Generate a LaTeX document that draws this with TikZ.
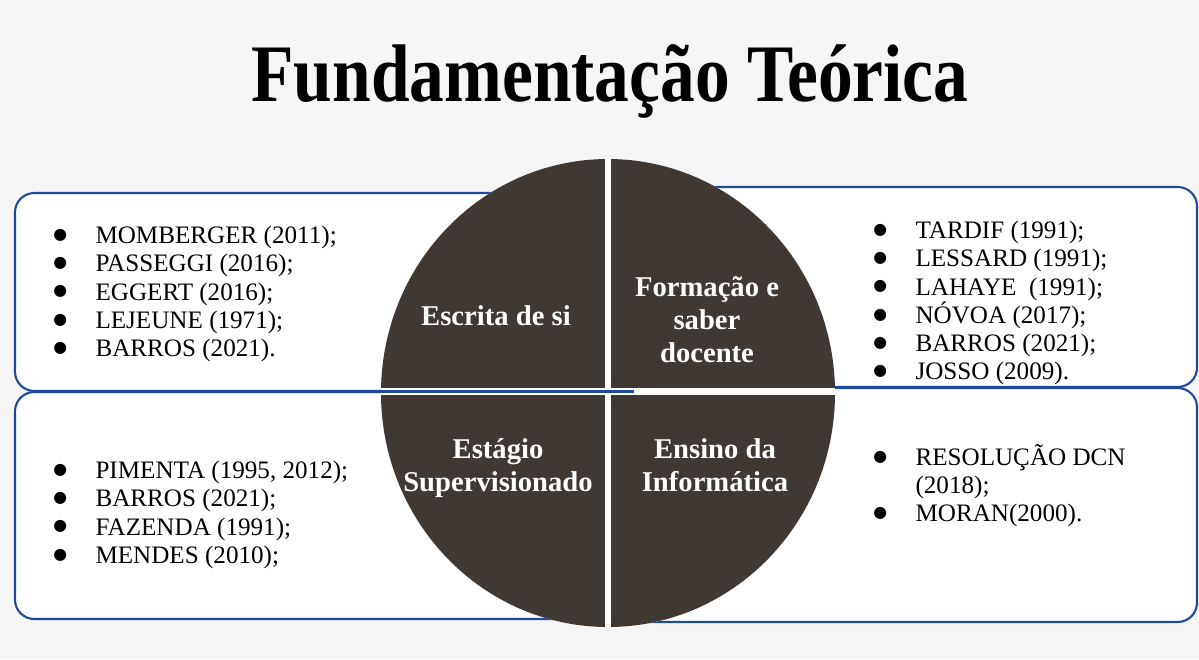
\documentclass[tikz,border=0pt]{standalone}
\usepackage{fontspec}
\setmainfont{Liberation Serif}
\newfontfamily\dotfont{DejaVu Sans}
\usetikzlibrary{positioning}
\definecolor{pagegray}{RGB}{246,246,246}
\definecolor{boxblue}{RGB}{32,72,155}
\definecolor{pizza}{RGB}{64,56,50}
\newcommand{\refitem}[1]{\makebox[24pt][l]{\raisebox{2.3pt}{\dotfont\fontsize{9}{9}\selectfont ●}}#1}
\tikzset{
    %Define style for the rounded frames
    frame/.style={
           draw=boxblue,
           fill=white,
           line width=1.2pt,
           rounded corners=11pt},
    %Define style for the reference lists
    reflist/.style={
           anchor=north west,
           align=left,
           inner sep=0pt,
           font=\fontsize{14.3}{16}\selectfont},
    %Define style for the labels in the circle
    quadlabel/.style={
           text=white,
           align=center,
           inner sep=0pt,
           font=\bfseries\fontsize{16.3}{18.7}\selectfont},
    title/.style={
           font=\bfseries\fontsize{46.5}{50}\selectfont}
}

\begin{document}
\begin{tikzpicture}[x=0.02cm,y=-0.02cm]
\fill[pagegray] (0,0) rectangle (1199,659);
\node[title](titel) at (610,81){\scalebox{0.85}[1]{Fundamentação Teórica}};
% frames behind the circle
\draw[frame] (588,187) rectangle (1197,387);
\draw[frame] (588,388) rectangle (1197,622);
\draw[frame] (15,193) rectangle (634,391);
\draw[frame] (15,392) rectangle (634,619);
% the four quarters
\begin{scope}
\clip (608,393) ellipse [x radius=227, y radius=234];
\fill[white] (370,150) rectangle (850,640);
\draw[boxblue, line width=1.2pt] (370,391.5) -- (634,391.5);
\fill[pizza] (370,150) rectangle (605,388);
\fill[pizza] (611,150) rectangle (850,388);
\fill[pizza] (370,395) rectangle (605,640);
\fill[pizza] (611,395) rectangle (850,640);
\end{scope}
\node[quadlabel](escrita) at (496,316){Escrita de si};
\node[quadlabel](formacao) at (707,320){Formação e\\saber\\docente};
\node[quadlabel](estagio) at (498,468){Estágio\\Supervisionado};
\node[quadlabel](ensino) at (715,465){Ensino da\\Informática};
% reference lists
\node[reflist](lista) at (53,226){\refitem{MOMBERGER (2011);}\\\refitem{PASSEGGI (2016);}\\\refitem{EGGERT (2016);}\\\refitem{LEJEUNE (1971);}\\\refitem{BARROS (2021).}};
\node[reflist](listb) at (873,221){\refitem{TARDIF\ (1991);}\\\refitem{LESSARD (1991);}\\\refitem{LAHAYE\ \ (1991);}\\\refitem{NÓVOA (2017);}\\\refitem{BARROS (2021);}\\\refitem{JOSSO (2009).}};
\node[reflist](listc) at (53,461){\refitem{PIMENTA (1995, 2012);}\\\refitem{BARROS (2021);}\\\refitem{FAZENDA (1991);}\\\refitem{MENDES (2010);}};
\node[reflist](listd) at (873,444){\refitem{RESOLUÇÃO DCN}\\\hspace*{24pt}(2018);\\\refitem{MORAN(2000).}};
\end{tikzpicture}
\end{document}
